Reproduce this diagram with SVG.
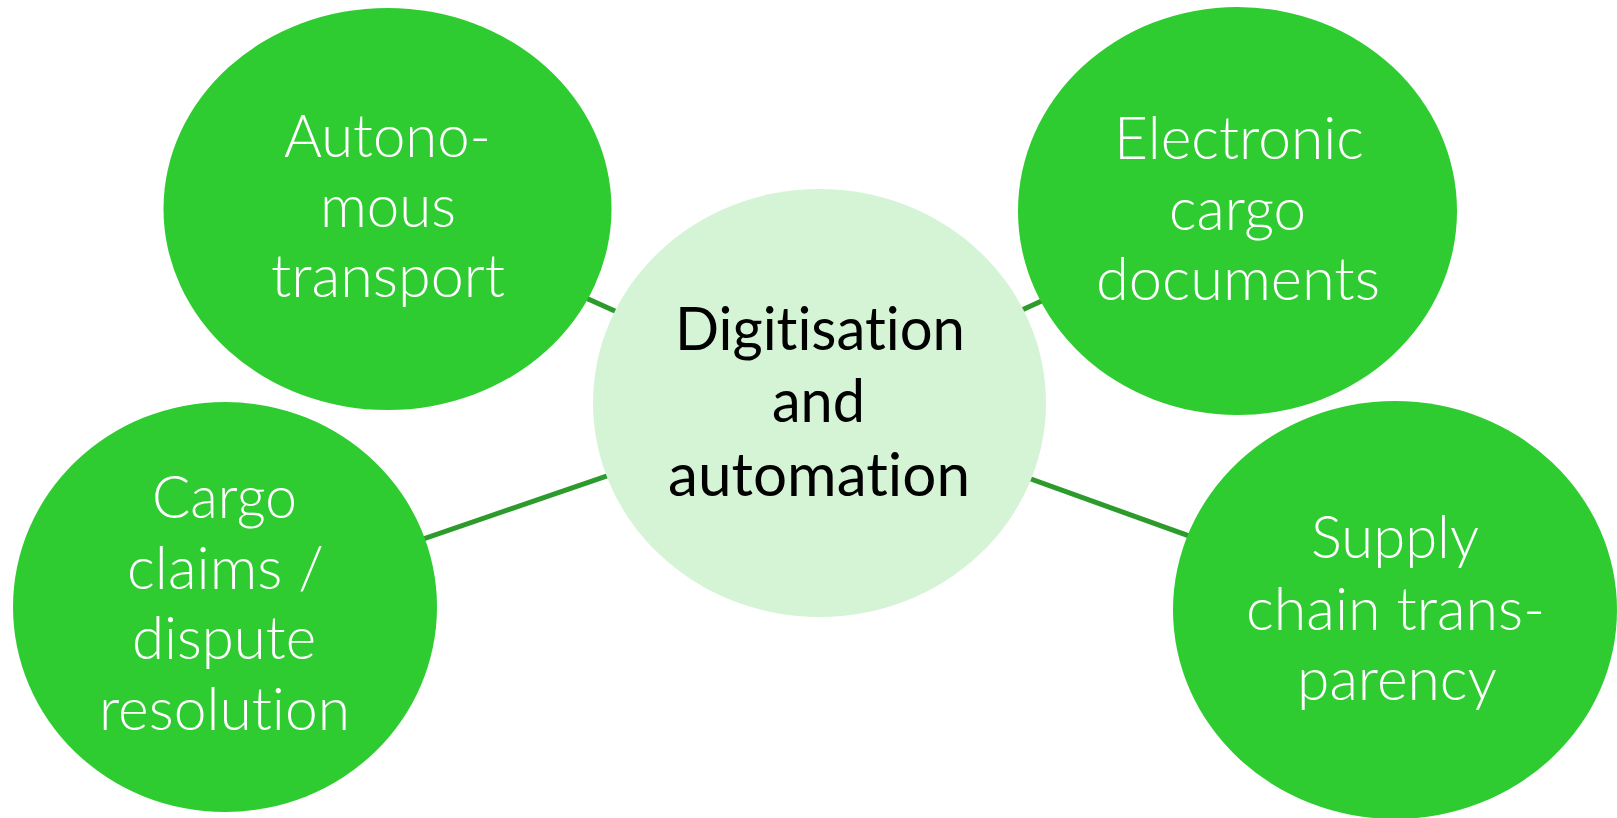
<svg xmlns="http://www.w3.org/2000/svg" width="1617" height="818" viewBox="0 0 1617 818">
<style>
.conn{stroke:#2C9B2C;stroke-width:5;fill:none}
.outer{fill:#2ECC30}
.hub{fill:#D5F4D6}
.lt{font-family:Lato,"Open Sans","Liberation Sans",sans-serif;font-weight:300;font-size:59px;fill:#FFFFFF;text-anchor:middle;font-variant-ligatures:none;font-feature-settings:"liga" 0,"clig" 0}
.dk{font-family:Lato,"Open Sans","Liberation Sans",sans-serif;font-weight:400;font-size:60px;fill:#000000;text-anchor:middle;font-variant-ligatures:none;font-feature-settings:"liga" 0,"clig" 0}
</style>
<rect x="0" y="0" width="1617" height="818" fill="#FFFFFF"/>
<g id="connectors">
<line class="conn" x1="819.5" y1="403" x2="387.5" y2="209"/>
<line class="conn" x1="819.5" y1="403" x2="1237.5" y2="211"/>
<line class="conn" x1="819.5" y1="403" x2="225" y2="607"/>
<line class="conn" x1="819.5" y1="403" x2="1395" y2="610"/>
</g>
<g id="node-autonomous">
<ellipse class="outer" cx="387.5" cy="209" rx="224" ry="201"/>
<text class="lt" x="387.5" y="157" textLength="207" lengthAdjust="spacingAndGlyphs">Autono-</text>
<text class="lt" x="388" y="227" textLength="136" lengthAdjust="spacingAndGlyphs">mous</text>
<text class="lt" x="388" y="297" textLength="234" lengthAdjust="spacingAndGlyphs">transport</text>
</g>
<g id="node-electronic">
<ellipse class="outer" cx="1237.5" cy="211" rx="219.5" ry="204"/>
<text class="lt" x="1239" y="159" textLength="250" lengthAdjust="spacingAndGlyphs">Electronic</text>
<text class="lt" x="1237.5" y="229.5" textLength="137" lengthAdjust="spacingAndGlyphs">cargo</text>
<text class="lt" x="1238" y="300" textLength="284" lengthAdjust="spacingAndGlyphs">documents</text>
</g>
<g id="node-claims">
<ellipse class="outer" cx="225" cy="607" rx="212" ry="205"/>
<text class="lt" x="224.5" y="518" textLength="145" lengthAdjust="spacingAndGlyphs">Cargo</text>
<text class="lt" x="225.5" y="589" textLength="197" lengthAdjust="spacingAndGlyphs">claims /</text>
<text class="lt" x="224" y="659" textLength="184" lengthAdjust="spacingAndGlyphs">dispute</text>
<text class="lt" x="224.5" y="730" textLength="251" lengthAdjust="spacingAndGlyphs">resolution</text>
</g>
<g id="node-supply">
<ellipse class="outer" cx="1395" cy="610" rx="222" ry="209"/>
<text class="lt" x="1395" y="558" textLength="168" lengthAdjust="spacingAndGlyphs">Supply</text>
<text class="lt" x="1395.5" y="630" textLength="299" lengthAdjust="spacingAndGlyphs">chain trans-</text>
<text class="lt" x="1397" y="700" textLength="200" lengthAdjust="spacingAndGlyphs">parency</text>
</g>
<g id="node-hub">
<ellipse class="hub" cx="819.5" cy="403" rx="226.5" ry="214"/>
<text class="dk" x="820" y="350" textLength="290" lengthAdjust="spacingAndGlyphs">Digitisation</text>
<text class="dk" x="818.5" y="422" textLength="93" lengthAdjust="spacingAndGlyphs">and</text>
<text class="dk" x="819" y="496" textLength="302" lengthAdjust="spacingAndGlyphs">automation</text>
</g>
</svg>
